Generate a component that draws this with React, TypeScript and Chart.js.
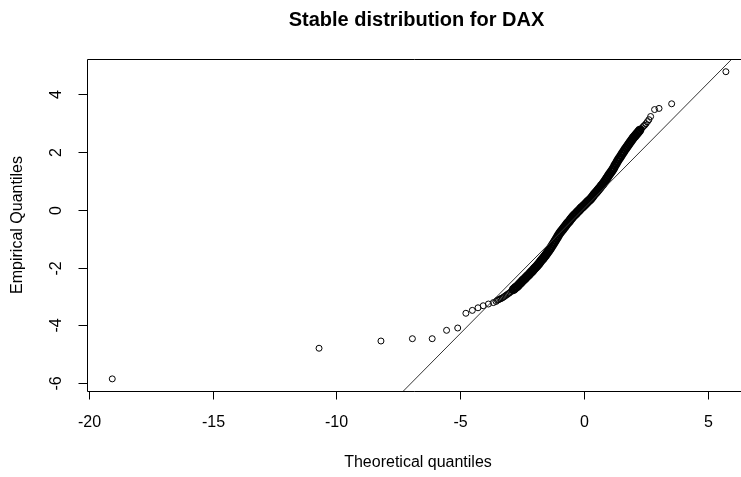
import React, { useEffect, useRef } from "react";
import { Chart, registerables } from "chart.js";

Chart.register(...registerables);

const chartTitle = "Stable distribution for DAX";
const xAxisTitle = "Theoretical quantiles";
const yAxisTitle = "Empirical Quantiles";

const xTicks = [-20, -15, -10, -5, 0, 5];
const yTicks = [-6, -4, -2, 0, 2, 4];
const xLimits = [-20.07, 6.34];
const yLimits = [-6.27, 5.22];

// Q-Q points (theoretical, empirical).
// Sparse tail points (drawn as individual rings)
const tailTheoretical = [
  -19.05, -10.7, -8.2, -6.93, -6.13, -5.55, -5.1, -4.77, -4.51, -4.28, -4.07, -3.86, -3.66,
  -3.55, -3.5, -3.45, -3.4, -3.35, -3.3, -3.25, -3.2, -3.15, -3.1, -3.05, -3.0, -2.95, -2.9,
  2.3, 2.35, 2.4, 2.45, 2.5, 2.56, 2.62, 2.69, 2.85, 3.03, 3.54, 5.73,
];
const tailEmpirical = [
  -5.85, -4.79, -4.54, -4.46, -4.46, -4.17, -4.09, -3.58, -3.48, -3.39, -3.32, -3.26, -3.21,
  -3.17, -3.13, -3.11, -3.09, -3.07, -3.05, -3.02, -2.99, -2.96, -2.93, -2.9, -2.87, -2.83, -2.79,
  2.8, 2.84, 2.89, 2.93, 2.98, 3.05, 3.12, 3.23, 3.47, 3.51, 3.67, 4.78,
];
// Dense central body of the sample (overlapping points)
const bodyTheoretical = [
  -2.85, -2.8, -2.75, -2.7, -2.65, -2.6, -2.55, -2.5, -2.45, -2.4, -2.35, -2.3, -2.25, -2.2,
  -2.15, -2.1, -2.05, -2.0, -1.95, -1.9, -1.85, -1.8, -1.75, -1.7, -1.65, -1.6, -1.55, -1.5,
  -1.45, -1.4, -1.35, -1.3, -1.25, -1.2, -1.15, -1.1, -1.05, -1.0, -0.95, -0.9, -0.85, -0.8,
  -0.75, -0.7, -0.65, -0.6, -0.55, -0.5, -0.45, -0.4, -0.35, -0.3, -0.25, -0.2, -0.15, -0.1,
  -0.05, 0.0, 0.05, 0.1, 0.15, 0.2, 0.25, 0.3, 0.35, 0.4, 0.45, 0.5, 0.55, 0.6, 0.65, 0.7,
  0.75, 0.8, 0.85, 0.9, 0.95, 1.0, 1.05, 1.1, 1.15, 1.2, 1.25, 1.3, 1.35, 1.4, 1.45, 1.5,
  1.55, 1.6, 1.65, 1.7, 1.75, 1.8, 1.85, 1.9, 1.95, 2.0, 2.05, 2.1, 2.15, 2.2, 2.25,
];
const bodyEmpirical = [
  -2.76, -2.72, -2.68, -2.65, -2.61, -2.56, -2.52, -2.47, -2.43, -2.39, -2.35, -2.3, -2.26, -2.22,
  -2.17, -2.13, -2.08, -2.03, -1.99, -1.94, -1.89, -1.84, -1.78, -1.73, -1.68, -1.62, -1.57, -1.51,
  -1.45, -1.39, -1.33, -1.26, -1.19, -1.12, -1.05, -0.98, -0.91, -0.84, -0.78, -0.72, -0.67, -0.61,
  -0.56, -0.5, -0.45, -0.4, -0.34, -0.29, -0.24, -0.19, -0.15, -0.11, -0.06, -0.02, 0.03, 0.07,
  0.11, 0.15, 0.19, 0.24, 0.28, 0.32, 0.36, 0.41, 0.46, 0.52, 0.57, 0.62, 0.67, 0.72, 0.77, 0.83,
  0.88, 0.94, 1.0, 1.07, 1.13, 1.2, 1.26, 1.32, 1.38, 1.45, 1.53, 1.6, 1.68, 1.75, 1.81, 1.88,
  1.95, 2.01, 2.08, 2.14, 2.2, 2.26, 2.32, 2.38, 2.44, 2.5, 2.55, 2.6, 2.65, 2.7, 2.75,
];

// reference line end points
const refLineX = [-7.35, 6.4];
const refLineY = [-6.32, 5.59];

const FONT = '"Liberation Sans", Arial, sans-serif';

const rAxesPlugin = {
  id: "rAxes",
  afterDraw(chart: any) {
    const { ctx, chartArea } = chart;
    const { left, top, bottom, right } = chartArea;
    const xs = chart.scales.x;
    const ys = chart.scales.y;
    ctx.save();
    ctx.strokeStyle = "#000";
    ctx.lineWidth = 1;
    const L = Math.round(left) + 0.5;
    const T = Math.round(top) + 0.5;
    const B = Math.round(bottom) + 0.5;
    ctx.beginPath();
    ctx.moveTo(right + 5, T);
    ctx.lineTo(L, T);
    ctx.lineTo(L, B);
    ctx.lineTo(right + 5, B);
    ctx.stroke();

    ctx.fillStyle = "#000";
    ctx.font = `16px ${FONT}`;
    ctx.textAlign = "center";
    ctx.textBaseline = "middle";
    for (const v of xTicks) {
      const px = Math.round(xs.getPixelForValue(v)) + 0.5;
      ctx.beginPath();
      ctx.moveTo(px, B);
      ctx.lineTo(px, B + 8);
      ctx.stroke();
      ctx.fillText(String(v), px, 423);
    }
    for (const v of yTicks) {
      const py = Math.round(ys.getPixelForValue(v)) + 0.5;
      ctx.beginPath();
      ctx.moveTo(L - 9, py);
      ctx.lineTo(L, py);
      ctx.stroke();
      ctx.save();
      ctx.translate(57, py);
      ctx.rotate(-Math.PI / 2);
      ctx.fillText(String(v), 0, 0);
      ctx.restore();
    }
    ctx.fillText(xAxisTitle, 418, 463);
    ctx.save();
    ctx.translate(18, 225);
    ctx.rotate(-Math.PI / 2);
    ctx.fillText(yAxisTitle, 0, 0);
    ctx.restore();

    ctx.font = `bold 20px ${FONT}`;
    ctx.fillText(chartTitle, 416.5, 20);
    ctx.restore();
  },
};

export default function App() {
  const ref = useRef<HTMLCanvasElement | null>(null);
  useEffect(() => {
    if (!ref.current) return;
    const tail = tailTheoretical.map((x, i) => ({ x, y: tailEmpirical[i] }));
    const body = bodyTheoretical.map((x, i) => ({ x, y: bodyEmpirical[i] }));
    const line = refLineX.map((x, i) => ({ x, y: refLineY[i] }));
    const chart = new Chart(ref.current, {
      type: "scatter",
      data: {
        datasets: [
          {
            type: "line",
            data: line,
            borderColor: "#333",
            borderWidth: 1,
            pointRadius: 0,
            fill: false,
          } as any,
          {
            data: tail,
            pointStyle: "circle",
            pointRadius: 3,
            pointBorderWidth: 1,
            pointBorderColor: "#000",
            pointBackgroundColor: "rgba(0,0,0,0)",
          },
          {
            data: body,
            pointStyle: "circle",
            pointRadius: 3.5,
            pointBorderWidth: 2.2,
            pointBorderColor: "#000",
            pointBackgroundColor: "rgba(0,0,0,0)",
          },
        ],
      },
      options: {
        responsive: false,
        animation: false,
        devicePixelRatio: 1,
        layout: { autoPadding: false, padding: { left: 87, top: 59, right: 0, bottom: 86 } },
        scales: {
          x: { type: "linear", min: xLimits[0], max: xLimits[1], display: false },
          y: { type: "linear", min: yLimits[0], max: yLimits[1], display: false },
        },
        plugins: { legend: { display: false }, tooltip: { enabled: false } },
      },
      plugins: [rAxesPlugin],
    });
    return () => chart.destroy();
  }, []);
  return (
    <div style={{ position: "fixed", left: 0, top: 0, width: 741, height: 477, background: "#fff" }}>
      <canvas ref={ref} width={741} height={477} />
    </div>
  );
}
